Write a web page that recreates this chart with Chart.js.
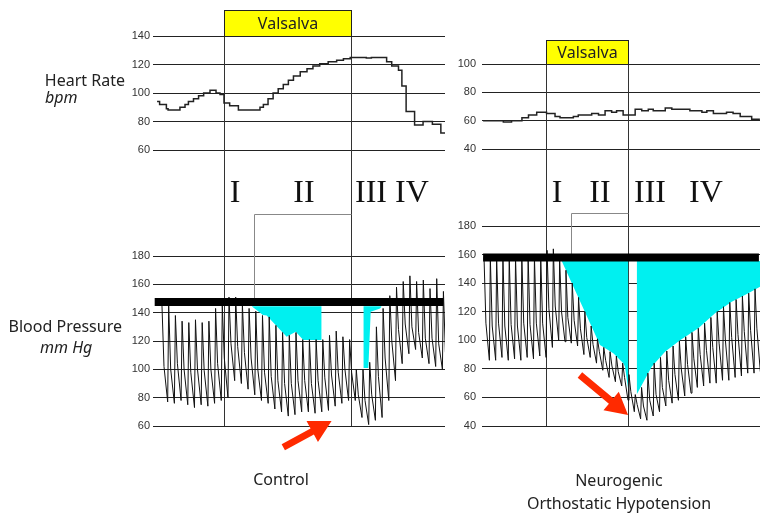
<!DOCTYPE html>
<html>
<head>
<meta charset="utf-8">
<script src="https://cdn.jsdelivr.net/npm/chart.js@4.4.1/dist/chart.umd.min.js"></script>
<style>
  body { margin: 0; background: #fff; width: 760px; height: 519px; position: relative; overflow: hidden;
         font-family: "Noto Sans", sans-serif; color: #222; }
  canvas { position: absolute; }
  .lbl { position: absolute; font-size: 16px; line-height: 16px; white-space: nowrap; }
  .it { font-style: italic; }
  .ctr { transform: translateX(-50%); text-align: center; }
  .roman { position: absolute; font-family: "Liberation Serif", "DejaVu Serif", serif; font-size: 32px;
           line-height: 32px; color: #111; transform: translateX(-50%); }
</style>
</head>
<body>
<canvas id="hrCtrl" width="350" height="210" style="left:100px;top:0"></canvas>
<canvas id="bpCtrl" width="350" height="319" style="left:100px;top:200px"></canvas>
<canvas id="hrNoh" width="330" height="210" style="left:430px;top:0"></canvas>
<canvas id="bpNoh" width="330" height="319" style="left:430px;top:200px"></canvas>

<div class="lbl" style="right:635px;top:72px">Heart Rate</div>
<div class="lbl it" style="left:45px;top:89px">bpm</div>
<div class="lbl" style="right:638px;top:318px">Blood Pressure</div>
<div class="lbl it" style="left:40px;top:339px">mm Hg</div>

<div class="roman" style="left:235px;top:175px">I</div>
<div class="roman" style="left:304px;top:175px">II</div>
<div class="roman" style="left:371px;top:175px">III</div>
<div class="roman" style="left:412px;top:175px">IV</div>
<div class="roman" style="left:557px;top:175px">I</div>
<div class="roman" style="left:600px;top:175px">II</div>
<div class="roman" style="left:650px;top:175px">III</div>
<div class="roman" style="left:706px;top:175px">IV</div>

<div class="lbl ctr" style="left:281px;top:471px">Control</div>
<div class="lbl ctr" style="left:619px;top:472px">Neurogenic</div>
<div class="lbl ctr" style="left:619px;top:495px">Orthostatic Hypotension</div>

<script>
// time axis: seconds from start of the Valsalva strain (strain lasts 15 s)
const phaseEdges = [0, 15];

// heart rate, stepwise (value holds until next time)
const hrCtrlT = [-7.9, -7.6, -6.8, -6.6, -5.2, -4.6, -4.2, -3.6, -3.0, -2.4, -1.65, -0.94, -0.47, 0, 0.67, 1.7,
  4.25, 4.65, 5.2, 5.8, 6.4, 7.0, 7.6, 8.2, 9.0, 9.8, 10.5, 11.3, 12.3, 13.3, 14.1, 14.9, 16.8, 17.4, 19.2, 19.8,
  20.6, 21.0, 21.5, 22.5, 23.5, 24.6, 25.6, 26.1];
const hrCtrl = [94, 92, 89, 88, 90, 92, 94, 96, 98, 100, 102, 100, 99, 93, 91, 88, 90, 92, 96, 100, 103, 106, 109,
  112, 115, 117, 119, 120.5, 122, 123, 124, 125, 124.5, 125, 122, 119, 116, 105, 87, 77.5, 80, 78, 72, 72];

const hrNohT = [-11.5, -7.8, -6.3, -4.4, -3.2, -1.7, 0.1, 1.65, 2.56, 5.0, 5.9, 8.35, 9.6, 10.8, 12.0, 12.9, 14.1,
  16.3, 17.5, 18.7, 19.6, 21.8, 23.0, 26.3, 28.5, 29.4, 30.6, 33.0, 34.2, 35.5, 37.6, 39.1];
const hrNoh = [60, 59, 60, 62, 64, 66, 65, 63, 62, 63, 64, 65, 64, 67, 66, 67, 64, 68, 67, 68, 67, 69, 68, 67, 66,
  67, 65, 66, 65, 63, 61, 61];

// blood pressure per beat: systolic peak, dicrotic notch, trough
const ctrlBeatStart = -7.32, ctrlBeatPeriod = 0.791;
const ctrlSys = [145, 145, 138, 134, 133, 135, 133, 134, 143, 145, 151, 151, 146, 143, 141, 138, 137, 131, 126, 124,
  126, 121, 121, 121, 121, 124, 127, 123, 121, 100, 100, 105, 130, 143, 152, 158, 162, 166, 162, 163, 157, 164, 155];
const ctrlNotch = [102, 100, 104, 100, 98, 100, 99, 100, 104, 108, 118, 116, 112, 108, 100, 98, 95, 92, 90, 90, 92,
  92, 90, 92, 94, 96, 98, 100, 98, 82, 78, 82, 95, 108, 120, 128, 132, 130, 126, 122, 122, 118, 112];
const ctrlDia = [77, 76, 78, 75, 73, 75, 74, 76, 78, 80, 92, 90, 86, 82, 78, 76, 72, 70, 67, 68, 70, 70, 69, 70, 71,
  74, 76, 78, 78, 66, 61, 64, 66, 78, 92, 104, 111, 114, 108, 104, 102, 100, 95];

const nohBeatStart = -11.33, nohBeatPeriod = 1.152;
const nohSys = [158, 158, 158, 158, 158, 158, 158, 158, 158, 158, 163, 164, 157, 149, 140, 130, 120, 110, 101, 95,
  92, 89, 84, 76, 62, 67, 77, 84, 88, 92.5, 96, 99.5, 102.5, 105.5, 108.4, 112, 116, 120, 123.5, 126.5, 128.5, 131,
  133, 136];
const nohNotch = [112, 110, 112, 110, 111, 110, 112, 111, 112, 112, 122, 124, 120, 116, 114, 108, 102, 97, 92, 86,
  82, 78, 74, 64, 55, 54, 58, 62, 67, 72, 76, 80, 83, 87, 90, 93, 95, 98, 100, 102, 104, 106, 107, 108];
const nohDia = [86, 86, 88, 86, 87, 86, 88, 87, 89, 88, 95, 100, 99, 98, 96, 90, 88, 84, 79, 74, 71, 68, 58, 50, 45,
  44, 47, 50, 54, 56, 58, 61, 63, 67, 68, 70, 70, 72, 72, 74, 75, 77, 77, 78];

// baseline systolic reference (thick bar) and the area below it lost during strain
const ctrlBaseline = 147.5, nohBaseline = 158;
const ctrlLossTop = 144.5, nohLossTop = 155.5;
const ctrlLossA = [[3.27, 144.5], [4.6, 138.4], [5.04, 138], [7.4, 123], [8.47, 126.6], [9.36, 120.7], [11.53, 120.7]];
const ctrlLossB = [[16.45, 144.5], [16.45, 101], [17.04, 101], [17.32, 140.7], [18.42, 143], [18.62, 144.5]];
const nohLossA = [[2.87, 155.5], [9.87, 96.7], [12.3, 91], [14.13, 84], [14.44, 81.5], [15.05, 65]];
const nohLossB = [[16.58, 62], [19.32, 81.5], [21.76, 92], [24.5, 100], [27.84, 108.4], [30.9, 119], [33.95, 127],
  [36.98, 133], [39.12, 137.5]];

const pts = (ts, vs) => ts.map((t, i) => ({ x: t, y: vs[i] }));
const pairs = arr => arr.map(p => ({ x: p[0], y: p[1] }));
function beatTrace(start, period, sys, notch, dia) {
  const out = [];
  sys.forEach((s, i) => {
    const t = start + i * period;
    out.push({ x: t, y: s });
    out.push({ x: t + period * 0.3, y: notch[i] });
    out.push({ x: t + period * 0.85, y: dia[i] });
  });
  return out;
}

const decor = {
  id: 'decor',
  beforeDatasetsDraw(chart, args, o) {
    const { ctx, chartArea: a, scales: { x, y } } = chart;
    ctx.save();
    ctx.strokeStyle = '#333';
    ctx.lineWidth = 1;
    const top = o.box ? a.top - o.box : 0;
    const bottom = o.box ? chart.height : a.bottom;
    phaseEdges.forEach(t => {
      const px = Math.round(x.getPixelForValue(t)) + 0.5;
      ctx.beginPath(); ctx.moveTo(px, top); ctx.lineTo(px, bottom); ctx.stroke();
    });
    if (o.bracket) {
      const bx = Math.round(x.getPixelForValue(o.bracket.t)) + 0.5;
      const ex = Math.round(x.getPixelForValue(phaseEdges[1])) + 0.5;
      const by = Math.round(y.getPixelForValue(o.bracket.top)) + 0.5;
      ctx.strokeStyle = '#888';
      ctx.beginPath();
      ctx.moveTo(bx, y.getPixelForValue(o.bracket.bottom));
      ctx.lineTo(bx, by); ctx.lineTo(ex, by);
      ctx.stroke();
    }
    ctx.restore();
  },
  afterDatasetsDraw(chart, args, o) {
    const { ctx, chartArea: a, scales: { x, y } } = chart;
    ctx.save();
    if (o.box) {
      const x0 = Math.round(x.getPixelForValue(phaseEdges[0])) + 0.5;
      const x1 = Math.round(x.getPixelForValue(phaseEdges[1])) + 0.5;
      const y0 = a.top - o.box + 0.5;
      ctx.fillStyle = '#ffff00';
      ctx.fillRect(x0, y0, x1 - x0, o.box);
      ctx.strokeStyle = '#222';
      ctx.strokeRect(x0, y0, x1 - x0, o.box);
      ctx.fillStyle = '#222';
      ctx.font = '16px "Noto Sans", sans-serif';
      ctx.textAlign = 'center';
      ctx.textBaseline = 'middle';
      ctx.fillText('Valsalva', (x0 + x1) / 2, y0 + o.box / 2 + 1);
    }
    if (o.arrow) {
      const sx = x.getPixelForValue(o.arrow.from[0]), sy = y.getPixelForValue(o.arrow.from[1]);
      const tx = x.getPixelForValue(o.arrow.to[0]), ty = y.getPixelForValue(o.arrow.to[1]);
      const len = Math.hypot(tx - sx, ty - sy), ux = (tx - sx) / len, uy = (ty - sy) / len;
      const nx = -uy, ny = ux, head = 22, hw = 12, sw = 3.5;
      const hx = tx - ux * head, hy = ty - uy * head;
      ctx.fillStyle = '#ff2a00';
      ctx.beginPath();
      ctx.moveTo(sx + nx * sw, sy + ny * sw);
      ctx.lineTo(hx + nx * sw, hy + ny * sw);
      ctx.lineTo(hx + nx * hw, hy + ny * hw);
      ctx.lineTo(tx, ty);
      ctx.lineTo(hx - nx * hw, hy - ny * hw);
      ctx.lineTo(hx - nx * sw, hy - ny * sw);
      ctx.lineTo(sx - nx * sw, sy - ny * sw);
      ctx.closePath();
      ctx.fill();
    }
    ctx.restore();
  }
};

function makeChart(id, cfg) {
  return new Chart(document.getElementById(id), {
    type: 'line',
    data: { datasets: cfg.datasets },
    options: {
      responsive: false,
      animation: false,
      layout: { padding: cfg.padding },
      plugins: { legend: { display: false }, tooltip: { enabled: false }, decor: cfg.decor },
      elements: { point: { radius: 0 }, line: { tension: 0 } },
      scales: {
        x: { type: 'linear', display: false, min: cfg.xMin, max: cfg.xMax },
        y: {
          min: cfg.yMin, max: cfg.yMax,
          afterFit: s => { s.width = cfg.axisW; },
          border: { display: false },
          grid: { color: '#222', lineWidth: 1, drawTicks: false },
          ticks: { stepSize: 20, padding: cfg.tickPad, color: '#333',
                   font: { family: '"Liberation Sans Narrow", "Liberation Sans", sans-serif', size: 11 } }
        }
      }
    },
    plugins: [decor]
  });
}

const ctrlX = { xMin: -8.38, xMax: 26.09, axisW: 53, tickPad: 3 };
const nohX = { xMin: -11.7, xMax: 39.12, axisW: 52, tickPad: 6 };

function bpDatasets(trace, base, lossTop, lossA, lossB, xr) {
  return [
    { data: [{ x: xr.xMin + 0.2, y: base }, { x: xr.xMax - 0.2, y: base }], borderColor: '#000', borderWidth: 8,
      order: 0 },
    { data: trace, borderColor: '#111', borderWidth: 1, order: 1 },
    { data: pairs(lossA), borderWidth: 0, borderColor: 'rgba(0,0,0,0)', backgroundColor: '#00f0f0',
      fill: { value: lossTop }, order: 2 },
    { data: pairs(lossB), borderWidth: 0, borderColor: 'rgba(0,0,0,0)', backgroundColor: '#00f0f0',
      fill: { value: lossTop }, order: 2 }
  ];
}

makeChart('hrCtrl', Object.assign({}, ctrlX, {
  yMin: 60, yMax: 140, padding: { top: 36, bottom: 60, right: 5 },
  decor: { box: 26 },
  datasets: [{ data: pts(hrCtrlT, hrCtrl), stepped: true, borderColor: '#222', borderWidth: 1.5 }]
}));

makeChart('hrNoh', Object.assign({}, nohX, {
  yMin: 40, yMax: 100, padding: { top: 64, bottom: 61, right: 0 },
  decor: { box: 24 },
  datasets: [{ data: pts(hrNohT, hrNoh), stepped: true, borderColor: '#222', borderWidth: 1.5 }]
}));

makeChart('bpCtrl', Object.assign({}, ctrlX, {
  yMin: 60, yMax: 180, padding: { top: 56, bottom: 93, right: 5 },
  decor: { bracket: { t: 3.5, top: 210, bottom: 147 }, arrow: { from: [7.0, 45], to: [12.7, 63.5] } },
  datasets: bpDatasets(beatTrace(ctrlBeatStart, ctrlBeatPeriod, ctrlSys, ctrlNotch, ctrlDia), ctrlBaseline,
    ctrlLossTop, ctrlLossA, ctrlLossB, ctrlX)
}));

makeChart('bpNoh', Object.assign({}, nohX, {
  yMin: 40, yMax: 180, padding: { top: 26, bottom: 93, right: 0 },
  decor: { bracket: { t: 4.57, top: 189, bottom: 155 }, arrow: { from: [6.2, 75.7], to: [15.0, 47.7] } },
  datasets: bpDatasets(beatTrace(nohBeatStart, nohBeatPeriod, nohSys, nohNotch, nohDia), nohBaseline,
    nohLossTop, nohLossA, nohLossB, nohX)
}));
</script>
</body>
</html>
